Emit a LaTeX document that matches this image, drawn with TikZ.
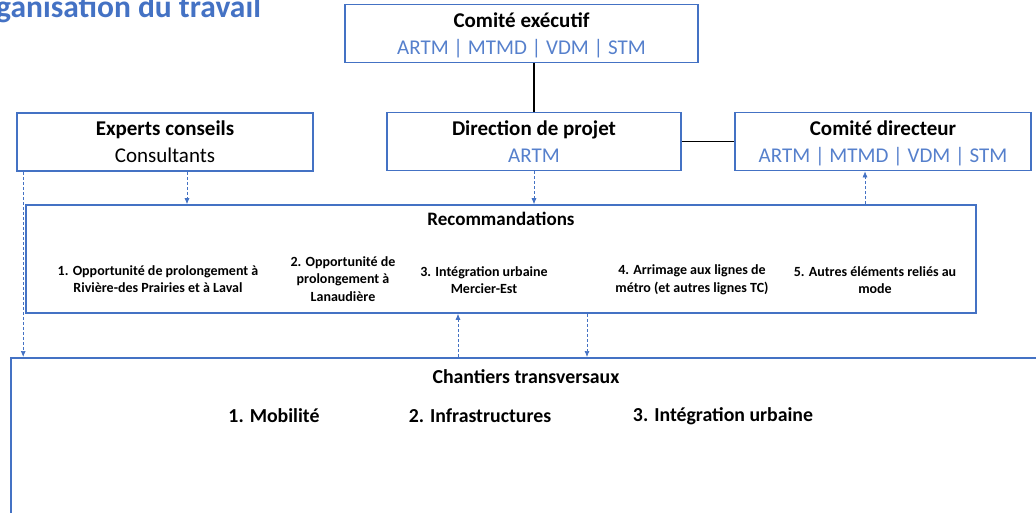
\documentclass[tikz,border=0pt]{standalone}
\usepackage{fontspec}
\setmainfont{Carlito}
\usetikzlibrary{positioning, calc, arrows.meta}

\definecolor{boxblue}{RGB}{68,114,196}
\definecolor{subblue}{RGB}{86,128,204}

\tikzset{
  box/.style={draw=boxblue, line width=1.6pt, align=center, inner sep=0pt},
  flow/.style={draw=boxblue, line width=0.7pt, dash pattern=on 3pt off 2pt, -{Latex[length=6pt,width=5pt]}},
  link/.style={draw=black, line width=1.6pt},
  item/.style={font=\fontsize{14}{17.5}\selectfont\bfseries, align=center},
  head/.style={font=\fontsize{21}{27}\selectfont},
  chtext/.style={font=\fontsize{19.8}{22}\selectfont\bfseries}
}
\newcommand{\boite}[2]{\rule{0pt}{23pt}\textbf{#1}\\#2\strut}
\newcommand{\sous}[1]{{\color{subblue}#1}}

\begin{document}
\begin{tikzpicture}[x=1pt, y=-1pt]

    \useasboundingbox (0,0) rectangle (1036,512);

    \node[anchor=base west, text=boxblue, font=\fontsize{31.5}{34}\selectfont\bfseries, inner sep=0pt] (titre) at (-4,17) {ganisation du travail};

    % les comites
    \node[box, head, minimum width=353pt, minimum height=57pt] (exec) at (521.5,33.5)
      {\boite{Comité exécutif}{\sous{ARTM | MTMD | VDM | STM}}};
    \node[box, head, minimum width=294pt, minimum height=57pt] (dir) at (534,141.5)
      {\boite{Direction de projet}{\sous{ARTM}}};
    \node[box, head, minimum width=296pt, minimum height=58pt] (experts) at (165,142)
      {\boite{Experts conseils}{Consultants}};
    \node[box, head, minimum width=296pt, minimum height=57pt] (cdir) at (883,141.5)
      {\boite{Comité directeur}{\sous{ARTM | MTMD | VDM | STM}}};

    \draw[link] (dir.north |- exec.south) -- (dir.north);
    \draw[link] (dir.east) -- (cdir.west);

    % recommandations
    \node[box, minimum width=950pt, minimum height=108pt] (reco) at (501,259) {};
    \node[font=\fontsize{19}{22}\selectfont\bfseries] (recot) at (501,219) {Recommandations};

    \node[item] (r1) at (158,279) {1. Opportunité de prolongement à\\Rivière-des Prairies et à Laval};
    \node[item] (r2) at (343,279) {2. Opportunité de\\prolongement à\\Lanaudière};
    \node[item] (r3) at (484,280) {3. Intégration urbaine\\Mercier-Est};
    \node[item] (r4) at (692,280) {4. Arrimage aux lignes de\\métro (et autres lignes TC)};
    \node[item] (r5) at (875,280) {5. Autres éléments reliés au\\mode};

    % chantiers
    \node[box, anchor=north west, minimum width=1040pt, minimum height=180pt] (chant) at (10,357) {};
    \node[chtext] (chantt) at (526,377) {Chantiers transversaux};
    \node[chtext] (c1) at (274,416) {1. Mobilité};
    \node[chtext] (c2) at (480,416) {2. Infrastructures};
    \node[chtext] (c3) at (723,416) {3. Intégration urbaine};

    % fleches
    \draw[flow] ([xshift=22pt]experts.south) -- ([xshift=22pt]experts.south |- reco.north);
    \draw[flow] (dir.south) -- (dir.south |- reco.north);
    \draw[flow] ([xshift=-18pt]cdir.south |- reco.north) -- ([xshift=-18pt]cdir.south);
    \draw[flow] ([xshift=7pt]experts.south west) -- ([xshift=7pt]experts.south west |- chant.north);
    \draw[flow] ([xshift=86pt]reco.south) -- ([xshift=86pt]reco.south |- chant.north);
    \draw[flow] ([xshift=-43pt]reco.south |- chant.north) -- ([xshift=-43pt]reco.south);

\end{tikzpicture}
\end{document}
